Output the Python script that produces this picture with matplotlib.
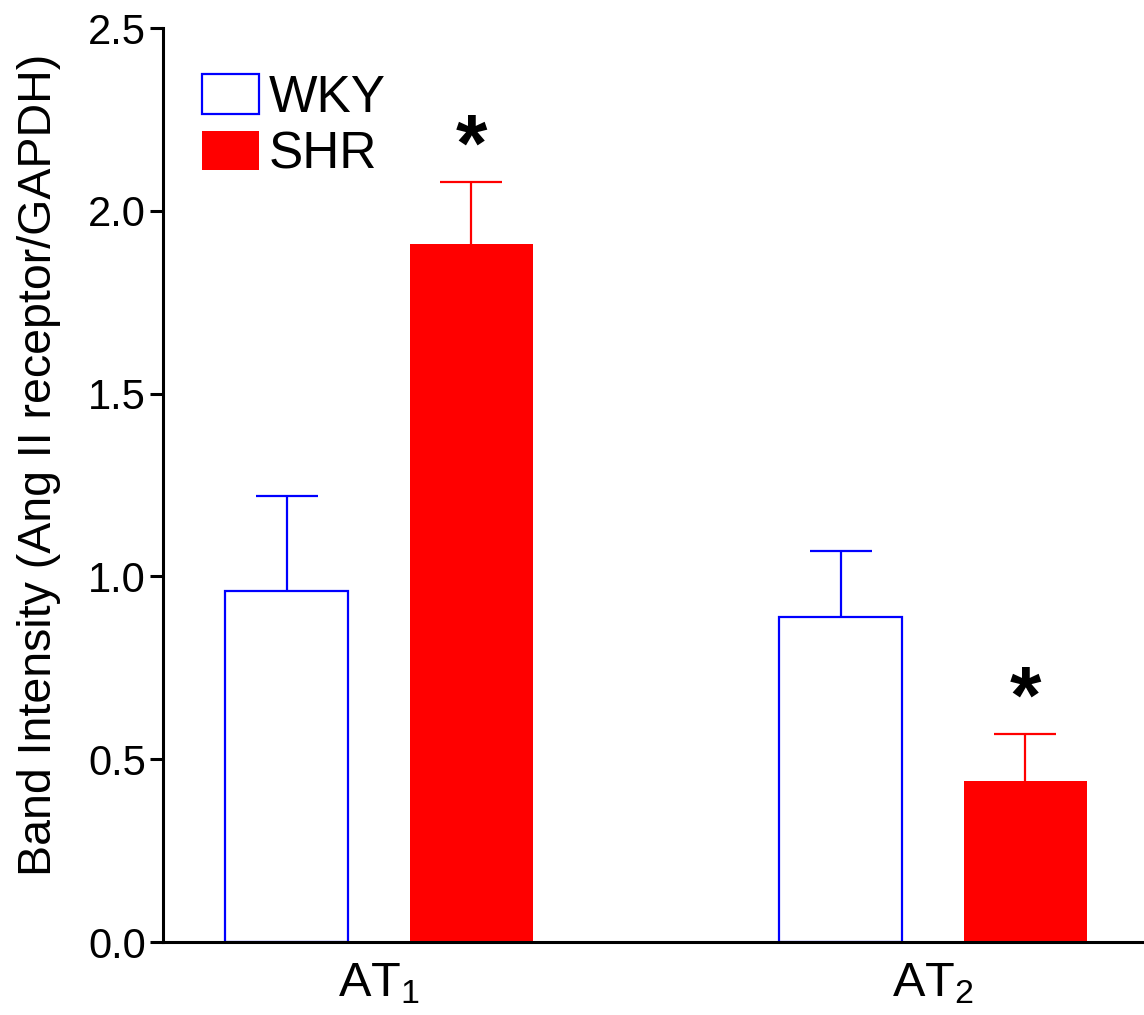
import numpy as np
import matplotlib
matplotlib.use("Agg")
import matplotlib.pyplot as plt

plt.rcParams['font.family'] = ['Liberation Sans', 'DejaVu Sans']
plt.rcParams['mathtext.fontset'] = 'custom'
plt.rcParams['mathtext.rm'] = 'Liberation Sans'
plt.rcParams['mathtext.it'] = 'Liberation Sans'

# --- data ---
receptors = [r"AT$_1$", r"AT$_2$"]
wky_mean = [0.96, 0.89]
wky_err = [0.26, 0.18]
shr_mean = [1.91, 0.44]
shr_err = [0.17, 0.13]
significant = [True, True]

x = np.arange(len(receptors))
width = 0.222
offset = 0.1665
cap = 0.056

fig = plt.figure(figsize=(11.44, 10.15), dpi=100)
ax = fig.add_axes([0.1425, 0.0719, 0.8575, 0.9005])

ax.bar(x - offset, wky_mean, width, facecolor='white', edgecolor='#0000ff',
       linewidth=1.6, label='WKY', zorder=2)
ax.bar(x + offset, shr_mean, width, color='#ff0000', label='SHR', zorder=2)

# upper-only error bars (stem + cap, no cap at the bar top)
for pos, mean, err, col in [(x - offset, wky_mean, wky_err, '#0000ff'),
                            (x + offset, shr_mean, shr_err, '#ff0000')]:
    top = np.array(mean) + np.array(err)
    ax.vlines(pos, mean, top, colors=col, linewidth=1.6, zorder=1)
    ax.hlines(top, pos - cap, pos + cap, colors=col, linewidth=1.6, zorder=1)

for xi, m, e, sig in zip(x, shr_mean, shr_err, significant):
    if sig:
        ax.annotate('*', (xi + offset, m + e), xytext=(0, -4), textcoords='offset points',
                    ha='center', va='bottom', fontsize=58, fontweight='bold')

ax.set_xlim(-0.3895, 1.381)
ax.set_ylim(0, 2.5)
ax.set_yticks([0.0, 0.5, 1.0, 1.5, 2.0, 2.5])
ax.set_yticklabels(['0.0', '0.5', '1.0', '1.5', '2.0', '2.5'])
ax.set_xticks(x)
ax.set_xticklabels(receptors, fontsize=35)
ax.tick_params(axis='x', length=0, pad=14)
ax.tick_params(axis='y', labelsize=30, length=9.4, width=2.2, pad=3)
ax.set_ylabel('Band Intensity (Ang II receptor/GAPDH)', fontsize=33.5)
ax.yaxis.set_label_coords(-0.104, 0.522)

for s in ['top', 'right']:
    ax.spines[s].set_visible(False)
for s in ['left', 'bottom']:
    ax.spines[s].set_linewidth(2.2)

ax.legend(loc='upper left', bbox_to_anchor=(0.0398, 0.95), frameon=False, fontsize=37,
          handlelength=1.11, handleheight=0.8, handletextpad=0.18, labelspacing=0.15,
          borderaxespad=0, borderpad=0)

fig.savefig('out.png', dpi=100)
